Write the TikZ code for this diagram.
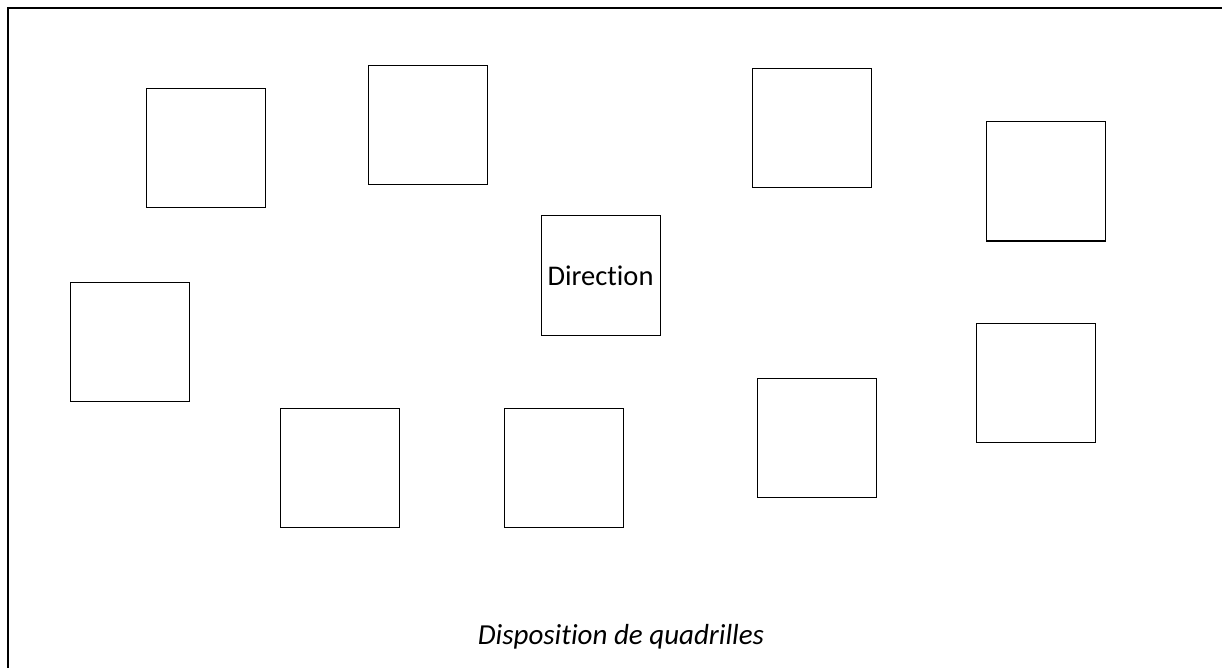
\documentclass[tikz,border=0pt]{standalone}
\usepackage{fontspec}
\setmainfont[Ligatures={NoCommon}]{Carlito}
\tikzset{quadrille/.style={draw, line width=1pt, minimum size=119pt, inner sep=0pt, font=\fontsize{28.5}{32}\selectfont}}
\begin{document}
\begin{tikzpicture}[x=1pt,y=-1pt]
\useasboundingbox (0,0) rectangle (1222,668);
\draw[line width=2.2pt] (8,690) -- (8,8) -- (1240,8);
\node[quadrille] (q1) at (205.5,148) {};
\node[quadrille] (q2) at (428,125.5) {};
\node[quadrille] (q3) at (812,128.5) {};
\node[quadrille] (q4) at (1046,181.5) {};
\node[quadrille] (dir) at (600.5,275.5) {Direction};
\node[quadrille] (q5) at (130,341.5) {};
\node[quadrille] (q6) at (340,467.5) {};
\node[quadrille] (q7) at (564,467.5) {};
\node[quadrille] (q8) at (817,437.5) {};
\node[quadrille] (q9) at (1036,382.5) {};
\node[font=\fontsize{29}{33}\selectfont\itshape] (titre) at (621,637) {Disposition de quadrilles};
\end{tikzpicture}
\end{document}
